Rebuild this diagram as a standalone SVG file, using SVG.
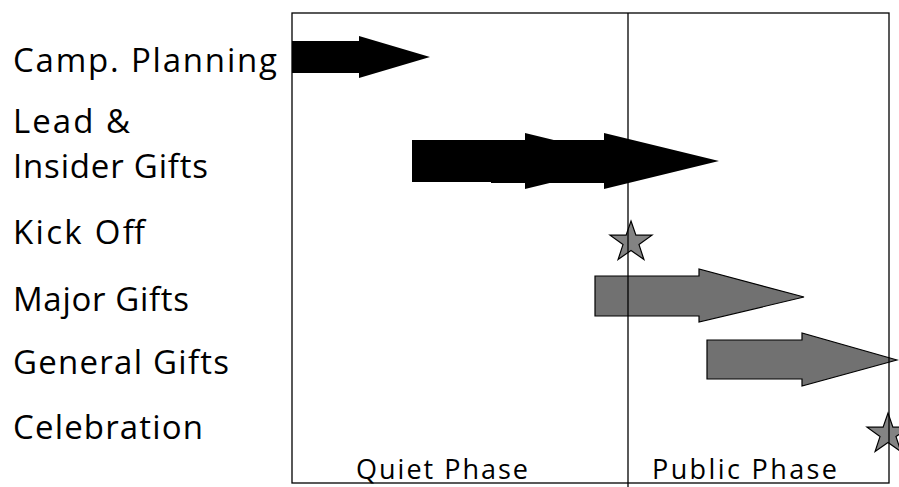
<svg xmlns="http://www.w3.org/2000/svg" width="899" height="487" viewBox="0 0 899 487">
<style>
.lbl{font-family:"Open Sans","Liberation Sans",sans-serif;font-size:33px;fill:#000}
.ph{font-family:"Open Sans","Liberation Sans",sans-serif;font-size:27px;fill:#000}
.blk{fill:#000;stroke:none}
.gry{fill:#717171;stroke:#000;stroke-width:1.2}
.star{fill:#838383;stroke:#000;stroke-width:1.2}
.frame{fill:none;stroke:#000;stroke-width:1.3}
</style>
<rect width="899" height="487" fill="#fff"/>
<g id="labels">
<text class="lbl" x="13" y="72" textLength="264" lengthAdjust="spacing">Camp. Planning</text>
<text class="lbl" x="13" y="133" textLength="117" lengthAdjust="spacing">Lead &amp;</text>
<text class="lbl" x="13" y="178" textLength="195" lengthAdjust="spacing">Insider Gifts</text>
<text class="lbl" x="13" y="244" textLength="132" lengthAdjust="spacing">Kick Off</text>
<text class="lbl" x="13" y="311" textLength="176" lengthAdjust="spacing">Major Gifts</text>
<text class="lbl" x="13" y="374" textLength="216" lengthAdjust="spacing">General Gifts</text>
<text class="lbl" x="13" y="439" textLength="190" lengthAdjust="spacing">Celebration</text>
</g>
<g id="camp-planning">
<polygon class="blk" points="292,41 359,41 359,36 430,57 359,78 359,73 292,73"/>
</g>
<g id="lead-insider">
<polygon class="blk" points="412,140 525,140 525,133 640,161 525,189 525,182 412,182"/>
<polygon class="blk" points="491,140 604,140 604,133 719,161 604,189 604,183 491,183"/>
</g>
<g id="major-gifts">
<polygon class="gry" points="595,276 699,276 699,269 804,297 699,322 699,316 595,316"/>
</g>
<g id="general-gifts">
<polygon class="gry" points="707,340 802,340 802,333 897,360 802,386 802,379 707,379"/>
</g>
<g id="kick-off">
<polygon class="star" transform="translate(631,242)" points="0,-21 4.9,-6.8 21,-6.8 8,2.6 12.9,17.5 0,8.4 -12.9,17.5 -8,2.6 -21,-6.8 -4.9,-6.8"/>
</g>
<g id="celebration">
<polygon class="star" transform="translate(888,434)" points="0,-21 4.9,-6.8 21,-6.8 8,2.6 12.9,17.5 0,8.4 -12.9,17.5 -8,2.6 -21,-6.8 -4.9,-6.8"/>
</g>
<g id="frame">
<rect class="frame" x="292" y="13" width="597" height="470"/>
<line class="frame" x1="628" y1="13" x2="628" y2="487"/>
</g>
<g id="phases">
<text class="ph" x="356" y="479" textLength="172" lengthAdjust="spacing">Quiet Phase</text>
<text class="ph" x="652" y="479" textLength="185" lengthAdjust="spacing">Public Phase</text>
</g>
</svg>
